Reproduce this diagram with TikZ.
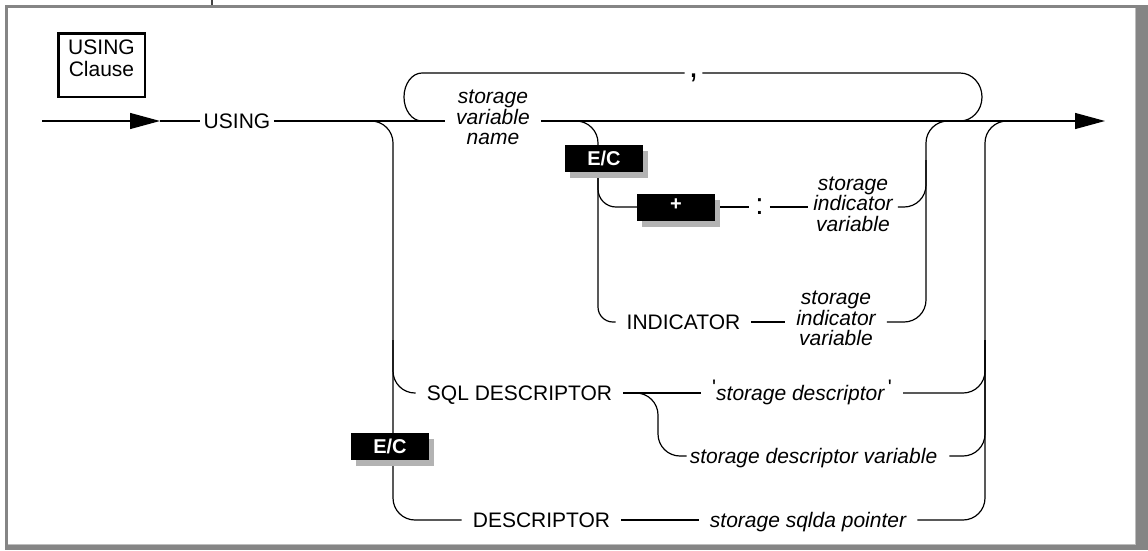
\documentclass[tikz,border=0pt]{standalone}
\usepackage{fontspec}
\setmainfont{Liberation Sans}
\usetikzlibrary{arrows.meta, positioning, backgrounds, shadows}
\definecolor{colFrame}{HTML}{858585}
\definecolor{colFrameLt}{HTML}{BDBDBD}
\definecolor{colShadow}{HTML}{B3B3B3}
\definecolor{colRail}{HTML}{000000}

\begin{document}
\begin{tikzpicture}[
  x=1pt, y=-1pt,
  font=\fontsize{21}{21}\selectfont,
  rail/.style={line width=1.2pt, color=colRail, rounded corners=22pt},
  railend/.style={rail, -{Triangle[length=30pt, width=16pt]}},
  kw/.style={inner xsep=11pt, inner ysep=3pt, text height=14pt, text depth=0pt},
  var/.style={kw, font=\fontsize{21}{21}\selectfont\itshape},
  multivar/.style={align=center, inner xsep=11pt, inner ysep=2pt,
    font=\fontsize{21}{20.5}\selectfont\itshape},
  badge/.style={fill=black, text=white,
    font=\fontsize{20}{20}\selectfont\bfseries,
    minimum width=78pt, minimum height=27pt, inner sep=0pt,
    drop shadow={shadow xshift=5pt, shadow yshift=-6pt, fill=colShadow, opacity=1}},
]
\useasboundingbox (0,0) rectangle (1148,550);

%% ============================================================
%% Title box
%% ============================================================
\node[draw, line width=2.5pt, minimum width=86.5pt, minimum height=63.5pt,
      inner ysep=2pt, align=center, text depth=13pt,
      font=\fontsize{21}{22}\selectfont]
  (title) at (101.5,65) {USING\\Clause};

%% ============================================================
%% Main line
%% ============================================================
\coordinate (entry) at (42,121);
\coordinate (entryhead) at (160,121);
\node[kw, inner xsep=3.5pt] (using) at (237,121) {USING};
\node[multivar] (varname) at (493,117.5) {storage\\variable\\name};
\coordinate (exit) at (1105,121);

% repeat loop
\node[anchor=base, inner xsep=4pt, font=\fontsize{34}{34}\selectfont]
  (comma) at (693.5,77) {,};
\coordinate (loopTL) at (422,73);
\coordinate (loopTR) at (960,73);
\coordinate (loopBR) at (960,121);

% bracket points on the main line
\coordinate (splitL) at (370,121);
\coordinate (lbar) at (393,121);
\coordinate (lbarS) at (393,340);
\coordinate (splitI) at (574,121);
\coordinate (ibar) at (598,121);
\coordinate (ibarP) at (598,175);
\coordinate (rjI) at (926,121);
\coordinate (rbarI) at (926,160);
\coordinate (joinI) at (950,121);
\coordinate (rjO) at (985,121);
\coordinate (rbarO) at (985,340);
\coordinate (joinO) at (1010,121);
\coordinate (dbar) at (658,393);

%% ============================================================
%% Indicator branch
%% ============================================================
\node[badge] (ecA) at (604,158.5) {E/C};
\node[badge] (plus) at (676,207) {\raisebox{-3pt}[0pt][0pt]{+}};
\node[kw, inner xsep=6pt, font=\fontsize{30}{30}\selectfont] (colon) at (759.5,207) {:};
\node[multivar, inner xsep=5pt] (indvarA) at (853,204) {storage\\indicator\\variable};
\node[kw] (indicator) at (683.5,322) {INDICATOR};
\node[multivar] (indvarB) at (836,318.5) {storage\\indicator\\variable};

%% ============================================================
%% Descriptor branches
%% ============================================================
\node[kw] (sqldesc) at (519.5,393) {SQL DESCRIPTOR};
\node[var] (strdesc) at (802,393)
  {{\upshape\raisebox{6pt}{\textquotesingle}}storage descriptor\,{\upshape\raisebox{6pt}{\textquotesingle}}};
\node[var, inner xsep=3pt] (descvar) at (813.5,456) {storage descriptor variable};
\node[kw] (desc) at (541.5,520) {DESCRIPTOR};
\node[var] (sqlda) at (808,520) {storage sqlda pointer};
\node[badge] (ecB) at (390,446.5) {E/C};

%% ============================================================
%% Frame and rails
%% ============================================================
\begin{scope}[on background layer]
  \fill[colFrame] (5,5) rectangle (1136,8);
  \fill[colFrame] (5,5) rectangle (7.5,548);
  \fill[colFrame] (1136,5) rectangle (1148,550);
  \fill[colFrame] (5,545) rectangle (1148,550);
  \draw[colFrameLt, line width=0.8pt] (1135.5,8) -- (1135.5,544.5) -- (7.5,544.5);
  \draw[line width=1.2pt, colFrame!50!black] (212,0) -- (212,5);

  \draw[railend] (entry) -- (entryhead);
  \draw[rail] (entryhead) -- (using);
  \draw[rail] (using.east) -- (using.east -| varname.west);
  \draw[railend] (varname.east |- entry) -- (exit);

  \draw[rail, sharp corners] (comma.west |- loopTL) -- (loopTL)
    arc[start angle=270, end angle=90, x radius=18, y radius=24];
  \draw[rail, sharp corners] (loopBR)
    arc[start angle=90, end angle=-90, x radius=22, y radius=24] -- (comma.east |- loopTR);

  \draw[rail] (splitL) -- (lbar) |- (desc);
  \draw[rail] (lbarS) |- (sqldesc);
  \draw[rail] (sqldesc) -- (strdesc);
  \draw[rail] (sqldesc.east) -- (dbar) |- (descvar);
  \draw[rail] (desc) -- (sqlda);

  \draw[rail] (splitI) -- (ibar) -- (ibarP);
  \draw[rail, rounded corners=15pt] (ibarP) |- (indicator);
  \draw[rail, rounded corners=18pt] (ibarP) |- (plus);
  \draw[rail] (plus) -- (colon);
  \draw[rail] (colon.east) -- (colon.east -| indvarA.west);
  \draw[rail] (indicator) -- (indicator.east -| indvarB.west);

  \draw[rail] (indvarB.east |- indicator) -| (rjI) -- (joinI);
  \draw[rail] (indvarA.east |- plus) -| (rbarI);

  \draw[rail] (sqlda) -| (rjO) -- (joinO);
  \draw[rail] (strdesc) -| (rbarO);
  \draw[rail] ([xshift=9pt]descvar.east) -| (rbarO);
\end{scope}

\end{tikzpicture}
\end{document}
